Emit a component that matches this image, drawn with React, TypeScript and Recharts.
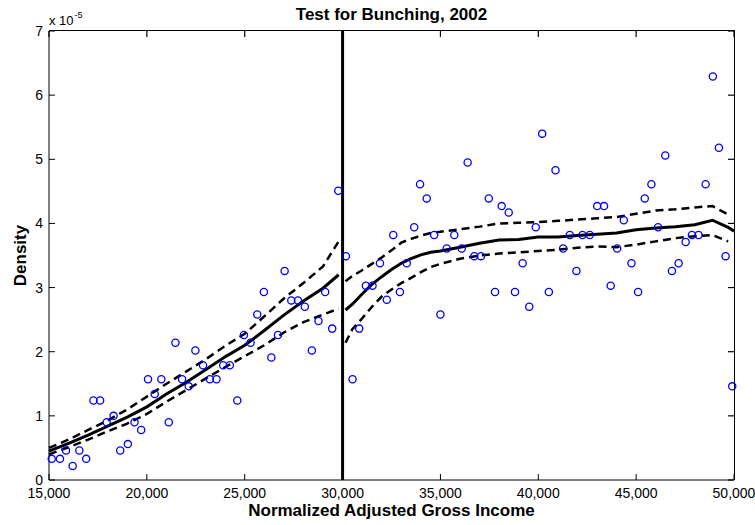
import {
  ComposedChart,
  Line,
  Scatter,
  XAxis,
  YAxis,
  ReferenceLine,
} from "recharts";

// binned density (x 1e-5)
const binX = [
  15140, 15560, 15870, 16210, 16550, 16900, 17270, 17610, 17950, 18300,
  18640, 19030, 19370, 19710, 20060, 20400, 20740, 21120, 21460, 21800,
  22140, 22480, 22870, 23220, 23560, 23900, 24240, 24620, 24960, 25300,
  25640, 25980, 26360, 26700, 27040, 27380, 27720, 28070, 28430, 28770,
  29110, 29470, 29780,
  30170, 30510, 30850, 31190, 31530, 31910, 32260, 32590, 32930, 33280,
  33660, 33960, 34300, 34680, 35000, 35320, 35710, 36090, 36390, 36730,
  37070, 37470, 37790, 38130, 38490, 38810, 39200, 39540, 39870, 40200,
  40540, 40880, 41270, 41610, 41950, 42260, 42630, 43010, 43360, 43700,
  44030, 44370, 44760, 45100, 45440, 45780, 46120, 46490, 46830, 47170,
  47530, 47850, 48190, 48550, 48920, 49230, 49570, 49910,
];
const binDensity = [
  0.33, 0.33, 0.46, 0.22, 0.46, 0.33, 1.24, 1.24, 0.9, 1.0,
  0.46, 0.56, 0.9, 0.78, 1.57, 1.34, 1.57, 0.9, 2.14, 1.57,
  1.46, 2.02, 1.79, 1.57, 1.57, 1.79, 1.79, 1.24, 2.26, 2.14,
  2.58, 2.93, 1.91, 2.26, 3.26, 2.8, 2.8, 2.7, 2.02, 2.48,
  2.93, 2.36, 4.51,
  3.49, 1.57, 2.36, 3.03, 3.03, 3.38, 2.81, 3.82, 2.93, 3.38,
  3.94, 4.61, 4.39, 3.82, 2.58, 3.61, 3.82, 3.61, 4.95, 3.49,
  3.49, 4.39, 2.93, 4.27, 4.17, 2.93, 3.38, 2.7, 3.94, 5.4,
  2.93, 4.83, 3.61, 3.82, 3.26, 3.82, 3.82, 4.27, 4.27, 3.03,
  3.61, 4.05, 3.38, 2.93, 4.39, 4.61, 3.94, 5.06, 3.26, 3.38,
  3.71, 3.82, 3.82, 4.61, 6.29, 5.18, 3.49, 1.46,
];

// fitted density with confidence band; null row = break at the threshold
const fitX = [
  15000, 16000, 17000, 18000, 19000, 20000, 21000, 22000, 23000, 24000,
  25000, 26000, 27000, 28000, 29000, 29800, 30000,
  30150, 30500, 31000, 31500, 32000, 32500, 33000, 33500, 34000, 34500,
  35000, 36000, 37000, 38000, 39000, 40000, 41000, 42000, 43000, 44000,
  45000, 46000, 47000, 48000, 48900, 49700, 50000,
];
const fitMid = [
  0.45, 0.57, 0.7, 0.84, 0.98, 1.14, 1.34, 1.52, 1.72, 1.92,
  2.1, 2.33, 2.57, 2.79, 2.99, 3.2, null,
  2.65, 2.74, 2.9, 3.05, 3.17, 3.28, 3.38, 3.45, 3.51, 3.55,
  3.57, 3.63, 3.69, 3.74, 3.75, 3.79, 3.79, 3.81, 3.83, 3.85,
  3.9, 3.93, 3.95, 3.98, 4.05, 3.94, 3.88,
];
const fitUpper = [
  0.5, 0.63, 0.78, 0.93, 1.1, 1.3, 1.5, 1.69, 1.88, 2.09,
  2.28, 2.55, 2.83, 3.07, 3.33, 3.72, null,
  3.1, 3.18, 3.27, 3.37, 3.47, 3.58, 3.7, 3.76, 3.81, 3.85,
  3.87, 3.91, 3.95, 4.0, 4.01, 4.02, 4.04, 4.06, 4.08, 4.1,
  4.15, 4.2, 4.22, 4.25, 4.27, 4.14, null,
];
const fitLower = [
  0.4, 0.51, 0.63, 0.76, 0.88, 1.03, 1.22, 1.4, 1.58, 1.76,
  1.93, 2.1, 2.3, 2.46, 2.58, 2.67, null,
  2.14, 2.35, 2.52, 2.7, 2.86, 2.97, 3.07, 3.15, 3.24, 3.32,
  3.37, 3.45, 3.5, 3.53, 3.55, 3.57, 3.59, 3.62, 3.64, 3.63,
  3.67, 3.72, 3.77, 3.8, 3.82, 3.72, null,
];

const xTicks = [15000, 20000, 25000, 30000, 35000, 40000, 45000, 50000];
const yTicks = [0, 1, 2, 3, 4, 5, 6, 7];
const threshold = 30000;

const points = binX.map((x, i) => ({ x, y: binDensity[i] }));
const fitRows = fitX.map((x, i) => ({
  x,
  mid: fitMid[i],
  upper: fitUpper[i],
  lower: fitLower[i],
}));

// plot box in page pixels
const W = 755;
const H = 525;
const plotLeft = 49;
const plotRight = 734;
const plotTop = 31;
const plotBottom = 480;
const tickLen = 6;

const font = "'Liberation Sans', Arial, Helvetica, sans-serif";

// bottom tick label + matching inward tick on the top edge
const XTick = (props: any) => {
  const { x, y, payload } = props;
  return (
    <g>
      <line
        x1={x}
        x2={x}
        y1={plotTop}
        y2={plotTop + tickLen}
        stroke="#000"
        strokeWidth={1.2}
      />
      <text
        x={x}
        y={y}
        dy="0.71em"
        textAnchor="middle"
        fontSize={14}
        fontFamily={font}
        fill="#000"
      >
        {Number(payload.value).toLocaleString("en-US")}
      </text>
    </g>
  );
};

// left tick label + matching inward tick on the right edge
const YTick = (props: any) => {
  const { x, y, payload } = props;
  return (
    <g>
      <line
        x1={plotRight - tickLen}
        x2={plotRight}
        y1={y}
        y2={y}
        stroke="#000"
        strokeWidth={1.2}
      />
      <text
        x={x}
        y={y}
        dy="0.355em"
        textAnchor="end"
        fontSize={14}
        fontFamily={font}
        fill="#000"
      >
        {payload.value}
      </text>
    </g>
  );
};

const OpenCircle = (props: any) => (
  <circle
    cx={props.cx}
    cy={props.cy}
    r={3.6}
    fill="none"
    stroke="#0000ff"
    strokeWidth={1.3}
  />
);

const labelStyle = {
  position: "absolute" as const,
  fontSize: 17,
  lineHeight: "17px",
  fontWeight: "bold" as const,
  textAlign: "center" as const,
  whiteSpace: "nowrap" as const,
};

export default function App() {
  return (
    <div
      style={{
        position: "absolute",
        left: 0,
        top: 0,
        width: W,
        height: H,
        background: "#fff",
        fontFamily: font,
        color: "#000",
      }}
    >
      <ComposedChart
        width={W}
        height={H}
        data={fitRows}
        margin={{ top: plotTop, right: W - plotRight, left: 0, bottom: 0 }}
      >
        <XAxis
          dataKey="x"
          type="number"
          domain={[15000, 50000]}
          ticks={xTicks}
          height={H - plotBottom}
          tickSize={-tickLen}
          tickMargin={14}
          tick={<XTick />}
          stroke="#000"
          interval={0}
        />
        <YAxis
          type="number"
          domain={[0, 7]}
          ticks={yTicks}
          width={plotLeft}
          tickSize={-tickLen}
          tickMargin={12}
          tick={<YTick />}
          stroke="#000"
          interval={0}
        />
        <ReferenceLine x={threshold} stroke="#000" strokeWidth={3} />
        <Scatter
          data={points}
          dataKey="y"
          shape={OpenCircle}
          isAnimationActive={false}
        />
        <Line
          dataKey="upper"
          type="linear"
          stroke="#000"
          strokeWidth={2.5}
          strokeDasharray="8 5"
          dot={false}
          activeDot={false}
          isAnimationActive={false}
        />
        <Line
          dataKey="lower"
          type="linear"
          stroke="#000"
          strokeWidth={2.5}
          strokeDasharray="8 5"
          dot={false}
          activeDot={false}
          isAnimationActive={false}
        />
        <Line
          dataKey="mid"
          type="linear"
          stroke="#000"
          strokeWidth={3}
          dot={false}
          activeDot={false}
          isAnimationActive={false}
        />
      </ComposedChart>

      {/* top and right edges of the axes box */}
      <div
        style={{
          position: "absolute",
          left: plotLeft,
          top: plotTop - 1,
          width: plotRight - plotLeft + 1,
          height: plotBottom - plotTop + 1,
          borderTop: "1px solid #000",
          borderRight: "1px solid #000",
          boxSizing: "border-box",
          pointerEvents: "none",
        }}
      />

      <div style={{ ...labelStyle, left: plotLeft, width: plotRight - plotLeft, top: 6 }}>
        Test for Bunching, 2002
      </div>
      <div
        style={{
          position: "absolute",
          left: plotLeft,
          top: 14,
          fontSize: 13,
          lineHeight: "13px",
          whiteSpace: "nowrap",
        }}
      >
        x 10
        <span style={{ fontSize: 9, position: "relative", top: -7, marginLeft: 1 }}>
          -5
        </span>
      </div>
      <div style={{ ...labelStyle, left: plotLeft, width: plotRight - plotLeft, top: 502 }}>
        Normalized Adjusted Gross Income
      </div>
      <div
        style={{
          ...labelStyle,
          left: -30,
          top: 247,
          width: 100,
          transform: "rotate(-90deg)",
        }}
      >
        Density
      </div>
    </div>
  );
}
